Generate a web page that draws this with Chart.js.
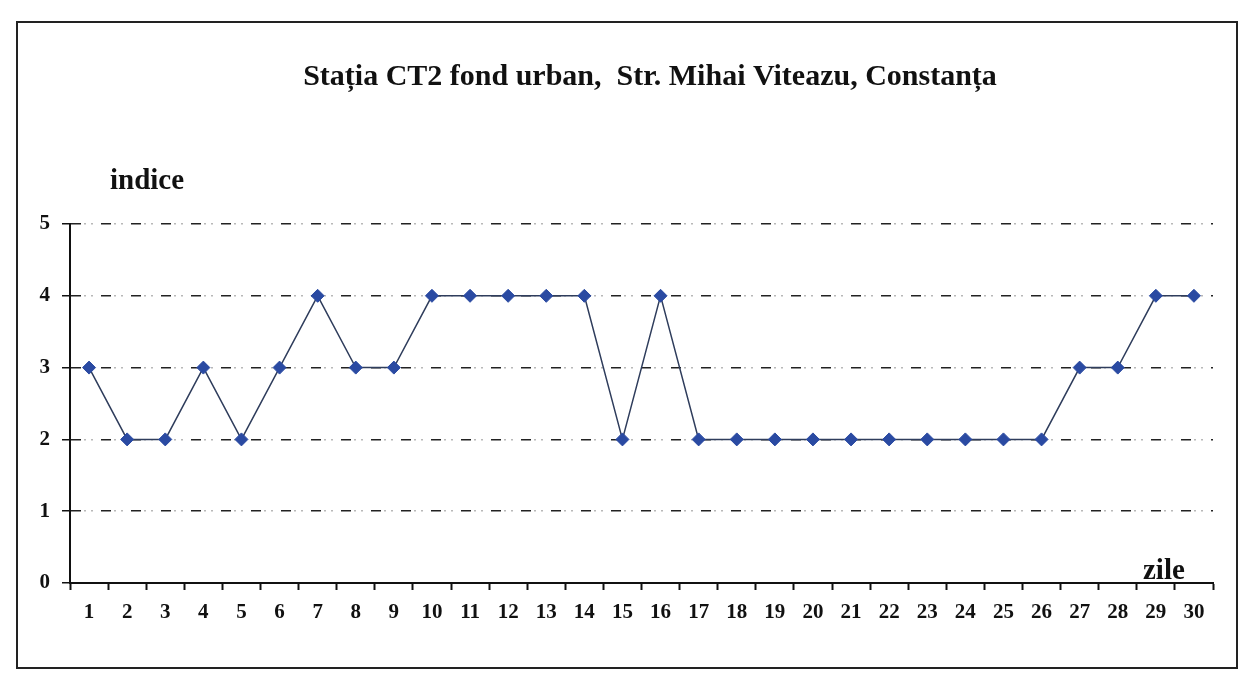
<!DOCTYPE html>
<html>
<head>
<meta charset="utf-8">
<script src="https://cdn.jsdelivr.net/npm/chart.js@4"></script>
<style>
  html, body { margin: 0; padding: 0; background: #fff; }
  #wrap { width: 1243px; height: 685px; }
</style>
</head>
<body>
<div id="wrap"><canvas id="chart-indice" width="1243" height="685"></canvas></div>
<script>
// days of the month and daily index
const zile = ['1','2','3','4','5','6','7','8','9','10','11','12','13','14','15',
              '16','17','18','19','20','21','22','23','24','25','26','27','28','29','30'];
const indice = [3, 2, 2, 3, 2, 3, 4, 3, 3, 4, 4, 4, 4, 4, 2,
                4, 2, 2, 2, 2, 2, 2, 2, 2, 2, 2, 3, 3, 4, 4];
const yTicks = [0, 1, 2, 3, 4, 5];

const titleText = 'Stația CT2 fond urban,  Str. Mihai Viteazu, Constanța';
const serif = '"Liberation Serif", "DejaVu Serif", serif';

// frame + free texts (title, "indice", "zile")
const textPlugin = {
    id: 'texts',
    beforeDraw(chart) {
        const ctx = chart.ctx;
        ctx.save();
        ctx.fillStyle = '#fff';
        ctx.fillRect(0, 0, chart.width, chart.height);
        ctx.strokeStyle = '#222';
        ctx.lineWidth = 2;
        ctx.strokeRect(17, 22, 1220, 646);
        ctx.restore();
    },
    afterDraw(chart) {
        const ctx = chart.ctx;
        ctx.save();
        ctx.fillStyle = '#111';
        ctx.textBaseline = 'alphabetic';
        ctx.font = 'bold 30px ' + serif;
        ctx.textAlign = 'center';
        ctx.fillText(titleText, 650, 85);
        ctx.textAlign = 'left';
        ctx.font = 'bold 29px ' + serif;
        ctx.fillText('indice', 110, 189);
        ctx.fillText('zile', 1143, 579);
        ctx.restore();
    }
};

document.addEventListener('DOMContentLoaded', function() {
    const ctx = document.getElementById('chart-indice').getContext('2d');

    new Chart(ctx, {
        type: 'line',
        data: {
            labels: zile,
            datasets: [{
                data: indice,
                borderColor: '#2f3d5c',
                borderWidth: 1.5,
                tension: 0,
                fill: false,
                pointStyle: 'rectRot',
                pointRadius: 6.5,
                pointBackgroundColor: '#2a4aa2',
                pointBorderColor: '#2a4aa2',
                pointBorderWidth: 1,
                yAxisID: 'y'
            }]
        },
        options: {
            responsive: false,
            animation: false,
            layout: {
                padding: { left: 28, right: 30, top: 224, bottom: 58 }
            },
            plugins: {
                legend: { display: false },
                tooltip: { enabled: false }
            },
            scales: {
                x: {
                    offset: true,
                    grid: {
                        offset: true,
                        drawOnChartArea: false,
                        drawTicks: true,
                        tickLength: 7,
                        tickColor: '#111',
                        tickWidth: 2
                    },
                    border: { display: true, color: '#111', width: 2 },
                    ticks: {
                        color: '#111',
                        padding: 10,
                        autoSkip: false,
                        maxRotation: 0,
                        font: { family: serif, size: 21, weight: 'bold' }
                    },
                    afterFit: function(scale) { scale.height = 44; }
                },
                y: {
                    min: 0,
                    max: 5,
                    afterBuildTicks: function(scale) {
                        scale.ticks = yTicks.map(v => ({ value: v }));
                    },
                    grid: {
                        color: function(c) { return c.tick && c.tick.value === 0 ? 'rgba(0,0,0,0)' : '#222'; },
                        lineWidth: 1.5,
                        drawTicks: true,
                        tickLength: 8,
                        tickColor: '#111',
                        tickWidth: 1.5
                    },
                    border: { display: true, color: '#111', width: 2, dash: [10, 20] },
                    ticks: {
                        color: '#111',
                        padding: 12,
                        font: { family: serif, size: 21, weight: 'bold' }
                    },
                    afterFit: function(scale) { scale.width = 42; }
                },
                // light dots between the dashes of the grid lines
                y2: {
                    position: 'left',
                    min: 0,
                    max: 5,
                    afterBuildTicks: function(scale) {
                        scale.ticks = yTicks.map(v => ({ value: v }));
                    },
                    grid: {
                        color: function(c) { return c.tick && c.tick.value === 0 ? 'rgba(0,0,0,0)' : '#b8b8b8'; },
                        lineWidth: 1.5,
                        drawTicks: false
                    },
                    border: { display: false, dash: [0, 14, 2, 5, 2, 7] },
                    ticks: { display: false },
                    afterFit: function(scale) { scale.width = 0; }
                }
            }
        },
        plugins: [textPlugin]
    });
});
</script>
</body>
</html>
